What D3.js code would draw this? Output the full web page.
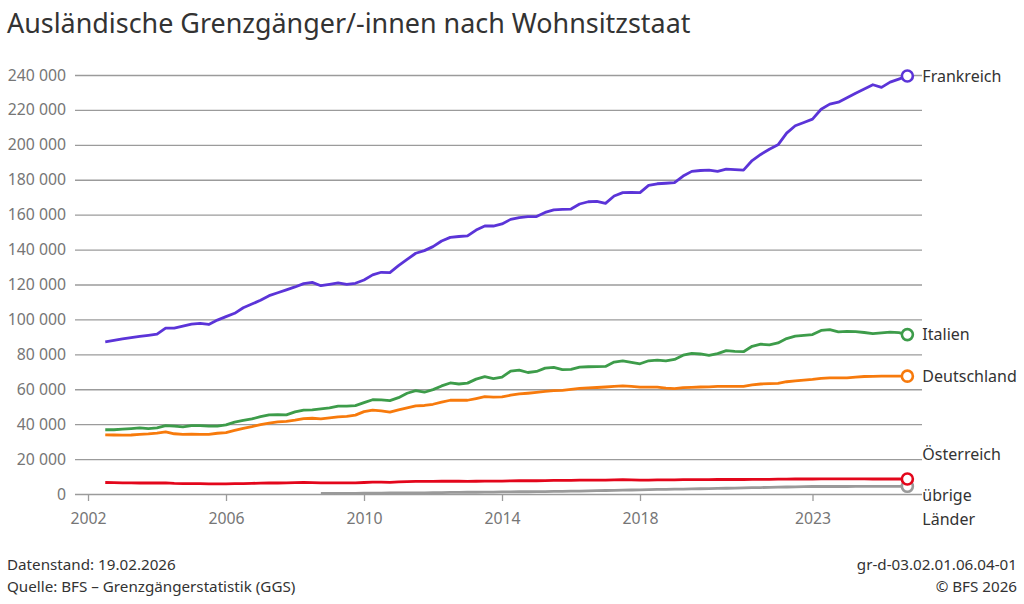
<!DOCTYPE html>
<html>
<head>
<meta charset="utf-8">
<script src="https://cdn.jsdelivr.net/npm/d3@7"></script>
<style>
  body { margin: 0; background: #fff; }
  svg { font-family: "Noto Sans", "Open Sans", sans-serif; }
</style>
</head>
<body>
<svg id="chart" width="1024" height="604"></svg>
<script>
// Quartalswerte, 2002 Q3 bis 2025 Q4 (in Tausend)
const startYear = 2002.5;
const frankreich = [
  87.2, 88.0, 88.8, 89.6, 90.3, 90.9, 91.6, 95.0, 95.0, 96.1, 97.3, 97.7, 97.1, 99.6, 101.6, 103.5,
  106.7, 108.8, 111.0, 113.6, 115.3, 116.9, 118.6, 120.5, 121.2, 119.3, 120.1, 120.9, 120.1, 120.7,
  122.6, 125.5, 127.0, 126.8, 130.8, 134.4, 137.9, 139.4, 141.7, 144.9, 147.0, 147.5, 147.8, 151.2,
  153.5, 153.5, 154.7, 157.3, 158.3, 158.9, 158.9, 161.3, 162.7, 163.0, 163.2, 166.1, 167.4, 167.6,
  166.5, 170.7, 172.6, 172.8, 172.6, 176.8, 177.7, 178.0, 178.3, 182.1, 184.8, 185.3, 185.5, 184.8,
  186.1, 185.8, 185.5, 191.0, 194.5, 197.5, 200.0, 206.7, 210.9, 212.8, 214.7, 220.4, 223.3, 224.4,
  227.0, 229.6, 232.0, 234.4, 232.9, 235.9, 237.6, 239.4
];
const italien = [
  36.8, 36.8, 37.2, 37.5, 37.9, 37.5, 37.9, 39.2, 38.9, 38.5, 39.2, 39.2, 38.9, 38.9, 39.6, 41.2,
  42.2, 43.0, 44.3, 45.3, 45.5, 45.3, 47.0, 48.1, 48.2, 48.7, 49.3, 50.3, 50.3, 50.6, 52.3, 54.0,
  53.9, 53.5, 55.2, 57.7, 59.2, 58.3, 59.8, 61.9, 63.6, 63.0, 63.5, 65.8, 67.2, 66.1, 66.9, 70.4,
  71.0, 69.6, 70.2, 72.1, 72.5, 71.2, 71.4, 72.7, 72.9, 73.0, 73.1, 75.6, 76.2, 75.4, 74.6, 76.3,
  76.7, 76.2, 77.1, 79.5, 80.6, 80.2, 79.4, 80.4, 82.1, 81.7, 81.5, 84.6, 85.8, 85.4, 86.5, 89.0,
  90.4, 90.8, 91.3, 93.7, 94.2, 92.9, 93.1, 93.0, 92.5, 91.9, 92.3, 92.7, 92.4, 91.3
];
const deutschland = [
  33.9, 33.8, 33.7, 33.8, 34.1, 34.4, 34.9, 35.6, 34.5, 34.1, 34.3, 34.2, 34.1, 34.8, 35.2, 36.4,
  37.6, 38.6, 39.8, 40.6, 41.3, 41.6, 42.3, 43.2, 43.4, 43.0, 43.6, 44.2, 44.5, 45.2, 47.2, 48.0,
  47.6, 46.9, 48.2, 49.3, 50.5, 50.7, 51.4, 52.6, 53.7, 53.7, 53.7, 54.7, 55.8, 55.5, 55.6, 56.6,
  57.3, 57.7, 58.2, 58.8, 59.2, 59.4, 59.9, 60.5, 60.8, 61.0, 61.3, 61.6, 61.9, 61.6, 61.2, 61.2,
  61.2, 60.7, 60.4, 60.9, 61.1, 61.3, 61.4, 61.6, 61.7, 61.7, 61.7, 62.5, 63.0, 63.2, 63.4, 64.3,
  64.8, 65.2, 65.6, 66.2, 66.5, 66.5, 66.5, 67.0, 67.3, 67.4, 67.5, 67.5, 67.5, 67.5
];
const oesterreich = [
  6.6, 6.5, 6.4, 6.4, 6.3, 6.3, 6.3, 6.4, 6.1, 6.0, 6.0, 5.9, 5.8, 5.8, 5.8, 5.9,
  6.0, 6.1, 6.2, 6.3, 6.3, 6.4, 6.5, 6.6, 6.5, 6.4, 6.4, 6.4, 6.4, 6.4, 6.6, 6.8,
  6.8, 6.7, 6.9, 7.1, 7.2, 7.2, 7.2, 7.3, 7.3, 7.3, 7.2, 7.3, 7.4, 7.4, 7.4, 7.5,
  7.6, 7.6, 7.6, 7.7, 7.8, 7.8, 7.8, 7.9, 8.0, 8.0, 8.0, 8.1, 8.2, 8.1, 8.0, 8.0,
  8.1, 8.1, 8.1, 8.2, 8.2, 8.2, 8.2, 8.3, 8.3, 8.3, 8.3, 8.4, 8.4, 8.4, 8.5, 8.5,
  8.6, 8.6, 8.6, 8.7, 8.7, 8.7, 8.7, 8.7, 8.7, 8.6, 8.6, 8.6, 8.6, 8.6
];
// übrige Länder erst ab 2008 Q3
const uebrigeStart = 2008.75;
const uebrige = [
  0.3, 0.3, 0.4, 0.4, 0.4, 0.5, 0.5, 0.5, 0.6, 0.6, 0.6, 0.7, 0.7, 0.8, 0.8, 0.9,
  0.9, 1.0, 1.0, 1.1, 1.1, 1.2, 1.2, 1.3, 1.3, 1.4, 1.4, 1.5, 1.5, 1.6, 1.7, 1.8,
  1.9, 2.0, 2.1, 2.2, 2.3, 2.4, 2.5, 2.6, 2.7, 2.8, 2.8, 2.9, 3.0, 3.1, 3.2, 3.3,
  3.4, 3.5, 3.6, 3.7, 3.8, 3.9, 4.0, 4.1, 4.2, 4.3, 4.3, 4.3, 4.3, 4.3, 4.4, 4.4,
  4.4, 4.4, 4.4, 4.4, 4.4
];

const yTicks = [0, 20000, 40000, 60000, 80000, 100000, 120000, 140000, 160000, 180000, 200000, 220000, 240000];
const xTicks = [2002, 2006, 2010, 2014, 2018, 2023];

const series = [
  { name: ['Frankreich'], values: frankreich, start: startYear, color: '#5b34d8', dy: 0 },
  { name: ['Italien'], values: italien, start: startYear, color: '#3d9c4a', dy: 0 },
  { name: ['Deutschland'], values: deutschland, start: startYear, color: '#f77a0c', dy: 0 },
  { name: ['Österreich'], values: oesterreich, start: startYear, color: '#e3061b', dy: -25 },
  { name: ['übrige', 'Länder'], values: uebrige, start: uebrigeStart, color: '#9a9a9a', dy: 9 }
];

const svg = d3.select('#chart');
const mLeft = 75, mRight = 922, mTop = 75, mBottom = 494;

const x = d3.scaleLinear().domain([2001.623, 2026.174]).range([mLeft, mRight]);
const y = d3.scaleLinear().domain([0, 240000]).range([mBottom, mTop]);

const fmt = d3.formatLocale({ decimal: ',', thousands: ' ', grouping: [3], currency: ['', ''] }).format(',d');

// Titel
svg.append('text')
  .attr('x', 7).attr('y', 33)
  .attr('font-size', 26.9).attr('fill', '#333')
  .text('Ausländische Grenzgänger/-innen nach Wohnsitzstaat');

// Gitterlinien + Y-Achse
const yAxis = svg.append('g')
  .attr('transform', `translate(${mLeft},0)`)
  .call(d3.axisLeft(y).tickValues(yTicks).tickFormat(fmt).tickSize(-(mRight - mLeft)).tickPadding(9));
yAxis.select('.domain').remove();
yAxis.selectAll('.tick line').attr('stroke', '#9b9b9b').attr('stroke-width', 1.3);
yAxis.selectAll('.tick text').attr('fill', '#767676').attr('font-size', 15.8)
  .attr('font-family', '"Noto Sans", sans-serif');

// X-Achse
const xAxis = svg.append('g')
  .attr('transform', `translate(0,${mBottom})`)
  .call(d3.axisBottom(x).tickValues(xTicks).tickFormat(d3.format('d')).tickSize(7).tickPadding(12));
xAxis.select('.domain').remove();
xAxis.selectAll('.tick line').attr('stroke', '#9b9b9b').attr('stroke-width', 1.3);
xAxis.selectAll('.tick text').attr('fill', '#767676').attr('font-size', 15.8)
  .attr('font-family', '"Noto Sans", sans-serif');

// Linien
const line = d3.line()
  .x(d => x(d.t))
  .y(d => y(d.v * 1000));

series.forEach(s => {
  const pts = s.values.map((v, i) => ({ t: s.start + i / 4, v }));
  s.last = pts[pts.length - 1];
  svg.append('path')
    .datum(pts)
    .attr('fill', 'none')
    .attr('stroke', s.color)
    .attr('stroke-width', 2.8)
    .attr('stroke-linejoin', 'round')
    .attr('d', line);
});

// Endpunkte und Beschriftungen
series.slice().reverse().forEach(s => {
  const cx = x(s.last.t), cy = y(s.last.v * 1000);
  svg.append('circle')
    .attr('cx', cx).attr('cy', cy).attr('r', 5.5)
    .attr('fill', '#fff').attr('stroke', s.color).attr('stroke-width', 2.6);
  const t = svg.append('text')
    .attr('x', cx + 15).attr('y', cy + s.dy)
    .attr('font-size', 16).attr('fill', '#333');
  s.name.forEach((n, i) => {
    t.append('tspan').attr('x', cx + 15).attr('dy', i === 0 ? '0.35em' : '1.5em').text(n);
  });
});

// Fusszeile
const foot = [
  ['Datenstand: 19.02.2026', 'gr-d-03.02.01.06.04-01'],
  ['Quelle: BFS – Grenzgängerstatistik (GGS)', '© BFS 2026']
];
foot.forEach((row, i) => {
  svg.append('text').attr('x', 7).attr('y', 570 + i * 22)
    .attr('font-size', 15.2).attr('fill', '#333').text(row[0]);
  svg.append('text').attr('x', 1017).attr('y', 570 + i * 22)
    .attr('text-anchor', 'end')
    .attr('font-size', 15.2).attr('fill', '#333').text(row[1]);
});
</script>
</body>
</html>
